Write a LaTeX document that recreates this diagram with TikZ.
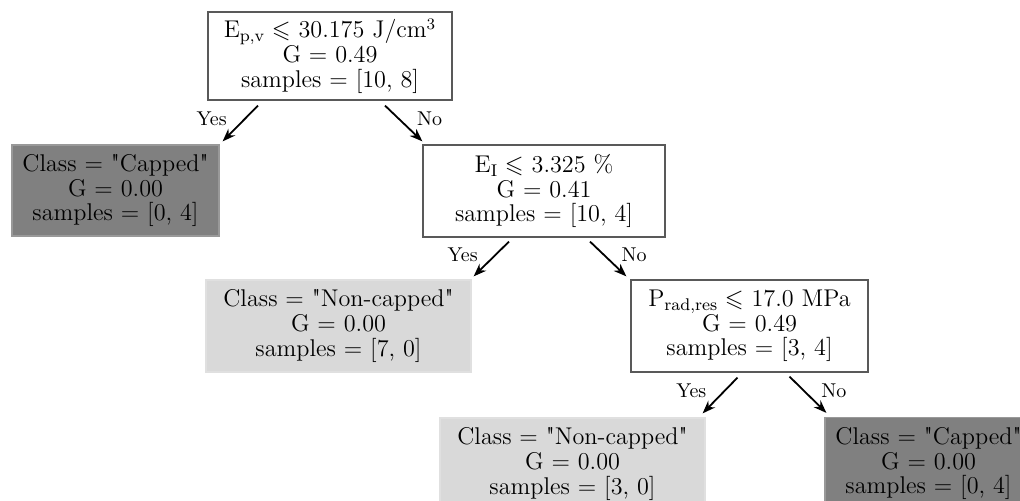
\documentclass[tikz,border=0pt]{standalone}
\usepackage{amssymb}
\usepackage{fontspec}
\newfontfamily\qf{lmroman10-regular}[Extension=.otf]
\newcommand{\dq}{{\qf\symbol{34}}}
\usetikzlibrary{calc,arrows.meta}
\begin{document}
\begin{tikzpicture}[x=0.5pt,y=-0.5pt,
  box/.style={rectangle, draw=black!65, line width=0.6pt, align=center, inner sep=0pt,
    font=\fontsize{12.1}{12.3}\selectfont},
  split/.style={box, fill=white},
  darkleaf/.style={box, fill=black!50, draw=black!40},
  lightleaf/.style={box, fill=black!15, draw=black!12},
  edge/.style={line width=0.9pt, -{Stealth[length=6.5pt,width=4.8pt]}},
  lab/.style={inner sep=0pt, font=\fontsize{10}{10}\selectfont},
  yeslab/.style={lab, anchor=east, xshift=-8.5pt},
  nolab/.style={lab, anchor=west, xshift=8.5pt}]
\useasboundingbox (0,0) rectangle (1020,501);
\clip (0,0) rectangle (1020,501);

\node[split, minimum width=122pt, minimum height=44pt] (root) at (330,56)
  {E$_{\mathrm{p,v}}\leqslant$ 30.175 J/cm$^3$\\ G = 0.49\\ samples = [10, 8]};
\node[darkleaf, minimum width=103.5pt, minimum height=45.5pt] (c1) at (115.5,190.5)
  {Class = \dq Capped\dq\\ G = 0.00\\ samples = [0, 4]};
\node[split, minimum width=121pt, minimum height=46pt] (ei) at (544,191)
  {E$_{\mathrm{I}}\leqslant$ 3.325 \%\\ G = 0.41\\ samples = [10, 4]};
\node[lightleaf, minimum width=132.5pt, minimum height=46pt] (nc1) at (338.5,326)
  {Class = \dq Non-capped\dq\\ G = 0.00\\ samples = [7, 0]};
\node[split, minimum width=118.5pt, minimum height=46pt] (p) at (749.5,326)
  {P$_{\mathrm{rad,res}}\leqslant$ 17.0 MPa\\ G = 0.49\\ samples = [3, 4]};
\node[lightleaf, minimum width=132.5pt, minimum height=46pt] (nc2) at (572.5,464)
  {Class = \dq Non-capped\dq\\ G = 0.00\\ samples = [3, 0]};
\node[darkleaf, minimum width=103.5pt, minimum height=46pt] (c2) at (928.5,463.5)
  {Class = \dq Capped\dq\\ G = 0.00\\ samples = [0, 4]};

\draw[edge] ($(root.south)+(-72,5)$) -- node[pos=0.38, yeslab] (y1) {Yes} ($(c1.north east)+(3,-3)$);
\draw[edge] ($(root.south)+(55,5)$) -- node[pos=0.38, nolab] (n1) {No} ($(ei.north west)+(0,-3)$);
\draw[edge] ($(ei.south)+(-35,4)$) -- node[pos=0.38, yeslab] (y2) {Yes} ($(nc1.north east)+(2,-3)$);
\draw[edge] ($(ei.south)+(46,4)$) -- node[pos=0.38, nolab] (n2) {No} ($(p.north west)+(-4,-3)$);
\draw[edge] ($(p.south)+(-12,5)$) -- node[pos=0.38, yeslab] (y3) {Yes} ($(nc2.north east)+(-3,-4)$);
\draw[edge] ($(p.south)+(40,4)$) -- node[pos=0.38, nolab] (n3) {No} ($(c2.north west)+(2,-4)$);
\end{tikzpicture}
\end{document}
